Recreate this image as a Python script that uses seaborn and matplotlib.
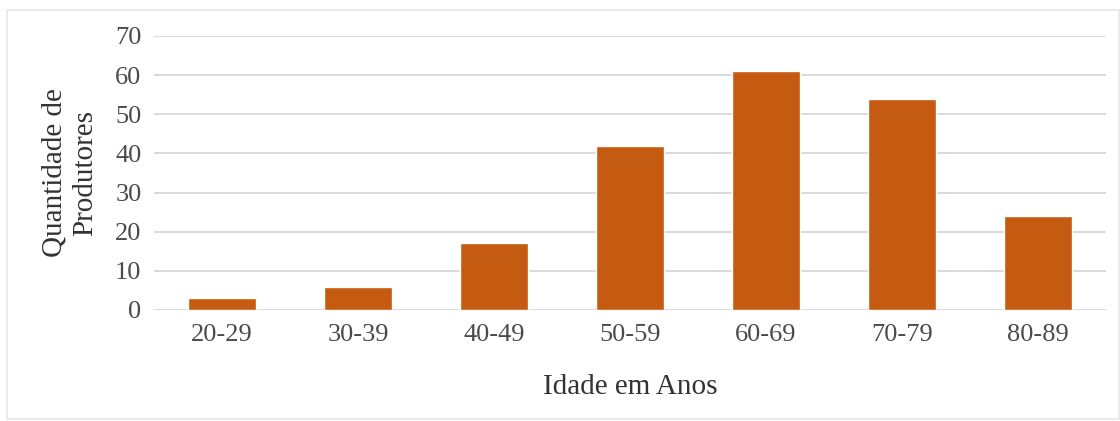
import matplotlib
matplotlib.use("Agg")
import matplotlib.pyplot as plt
import seaborn as sns
import pandas as pd
from matplotlib.patches import Rectangle

categories = ["20-29", "30-39", "40-49", "50-59", "60-69", "70-79", "80-89"]
values = [3, 6, 17, 42, 61, 54, 24]
y_ticks = [0, 10, 20, 30, 40, 50, 60, 70]

sns.set_style("white")
plt.rcParams["font.family"] = ["Liberation Serif", "DejaVu Serif"]

W, H = 1120, 421
fig = plt.figure(figsize=(W / 100, H / 100), dpi=100)
ax = fig.add_axes([154 / W, (H - 310) / H, (1106 - 154) / W, (310 - 36) / H])

df = pd.DataFrame({"Idade": categories, "Quantidade": values})
sns.barplot(data=df, x="Idade", y="Quantidade", color="#C55A11", saturation=1,
            width=0.5, ax=ax, zorder=3)

ax.set_ylim(0, 70)
ax.set_xlim(-0.5, len(categories) - 0.5)
ax.set_yticks(y_ticks)
ax.yaxis.grid(True, color="#D9D9D9", linewidth=1.4, zorder=0)
ax.set_axisbelow(True)
for s in ax.spines.values():
    s.set_visible(False)
ax.tick_params(axis="both", length=0, labelsize=19, labelcolor="#4A4A4A")
ax.tick_params(axis="y", pad=9)
ax.tick_params(axis="x", pad=10)

ax.set_xlabel("Idade em Anos", fontsize=21, color="#333333", labelpad=20)
ax.set_ylabel("Quantidade de\nProdutores", fontsize=21, color="#333333",
              labelpad=12, linespacing=1.25)

fig.patches.append(Rectangle((7 / W, 2 / H), (W - 8) / W, (H - 12) / H,
                             transform=fig.transFigure, fill=False,
                             edgecolor="#E6E6E6", linewidth=1.2))

fig.savefig("out.png", dpi=100, facecolor="white")
